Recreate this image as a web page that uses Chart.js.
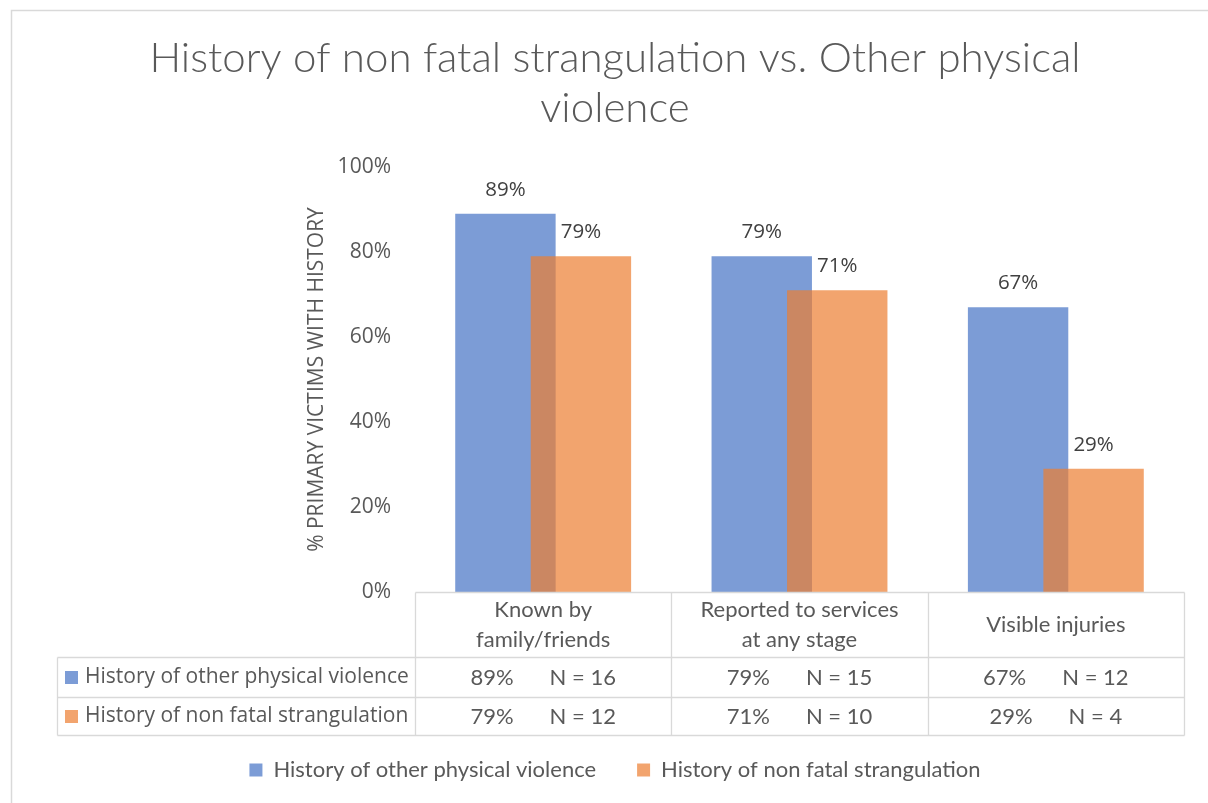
<!DOCTYPE html>
<html>
<head>
<meta charset="utf-8">
<script src="https://cdn.jsdelivr.net/npm/chart.js@4.4.1/dist/chart.umd.min.js"></script>
<style>
  html, body { margin: 0; padding: 0; background: #fff; }
  #wrap { width: 1208px; height: 803px; }
</style>
</head>
<body>
<div id="wrap"><canvas id="strangChart" width="1208" height="803"></canvas></div>
<script>
// chart data
const categories = [['Known by', 'family/friends'], ['Reported to services', 'at any stage'], ['Visible injuries']];
const seriesNames = ['History of other physical violence', 'History of non fatal strangulation'];
const otherViolencePct = [89, 79, 67];
const strangulationPct = [79, 71, 29];
const otherViolenceN = [16, 15, 12];
const strangulationN = [12, 10, 4];
const yTicks = [0, 20, 40, 60, 80, 100];

const BLUE = 'rgba(68, 114, 196, 0.7)';
const ORANGE = 'rgba(237, 125, 49, 0.7)';
const TEXT = '#595959';
const LINE = '#d9d9d9';
const NARROW = 'Lato, "Open Sans", sans-serif';   // stands in for Calibri
const WIDE = '"Open Sans", Lato, sans-serif';     // stands in for Segoe UI

// Excel draws the second series over the first one
const orangeOnTop = {
    id: 'orangeOnTop',
    beforeDatasetDraw(chart, args) {
        if (args.index === 1) return false;
    },
    afterDatasetsDraw(chart) {
        chart.getDatasetMeta(1).controller.draw();
    }
};

const valueLabels = {
    id: 'valueLabels',
    afterDatasetsDraw(chart) {
        const ctx = chart.ctx;
        ctx.save();
        ctx.font = '20.5px ' + WIDE;
        ctx.fillStyle = '#404040';
        ctx.textAlign = 'center';
        ctx.textBaseline = 'middle';
        chart.data.datasets.forEach((ds, i) => {
            chart.getDatasetMeta(i).data.forEach((bar, j) => {
                ctx.fillText(ds.data[j] + '%', bar.x, bar.y - 24);
            });
        });
        ctx.restore();
    }
};

// frame + data table under the plot
const dataTable = {
    id: 'dataTable',
    beforeDraw(chart) {
        const ctx = chart.ctx;
        ctx.save();
        ctx.strokeStyle = LINE;
        ctx.lineWidth = 1.5;
        ctx.beginPath();
        ctx.moveTo(11.5, 803);
        ctx.lineTo(11.5, 10.5);
        ctx.lineTo(1208, 10.5);
        ctx.stroke();
        ctx.restore();
    },
    afterDraw(chart) {
        const ctx = chart.ctx;
        const xs = chart.scales.x;
        const area = chart.chartArea;
        const top = Math.round(area.bottom) + 0.5;
        const rowA = top + 65, rowB = rowA + 40, rowC = rowB + 38;
        const keyLeft = 57.5;
        const half = (xs.getPixelForValue(1) - xs.getPixelForValue(0)) / 2;
        const bounds = [];
        for (let i = 0; i < categories.length; i++) bounds.push(Math.round(xs.getPixelForValue(i) - half) + 0.5);
        bounds.push(Math.round(xs.getPixelForValue(categories.length - 1) + half) + 0.5);
        const right = bounds[bounds.length - 1];

        ctx.save();
        ctx.strokeStyle = LINE;
        ctx.lineWidth = 1.3;
        ctx.beginPath();
        ctx.moveTo(bounds[0], top); ctx.lineTo(right, top);
        [rowA, rowB, rowC].forEach(y => { ctx.moveTo(keyLeft, y); ctx.lineTo(right, y); });
        bounds.forEach(x => { ctx.moveTo(x, top); ctx.lineTo(x, rowC); });
        ctx.moveTo(keyLeft, rowA); ctx.lineTo(keyLeft, rowC);
        ctx.stroke();

        ctx.fillStyle = TEXT;
        ctx.font = '22px ' + NARROW;
        ctx.textBaseline = 'middle';
        ctx.textAlign = 'center';
        categories.forEach((lines, i) => {
            const cx = xs.getPixelForValue(i);
            const cy = (top + rowA) / 2;
            lines.forEach((ln, k) => {
                ctx.fillText(ln, cx, cy + (k - (lines.length - 1) / 2) * 30);
            });
        });

        const rows = [
            { y: (rowA + rowB) / 2, pct: otherViolencePct, n: otherViolenceN, color: BLUE, name: seriesNames[0] },
            { y: (rowB + rowC) / 2, pct: strangulationPct, n: strangulationN, color: ORANGE, name: seriesNames[1] }
        ];
        rows.forEach(r => {
            ctx.textAlign = 'left';
            ctx.fillStyle = r.color;
            ctx.fillRect(65, Math.round(r.y - 6.5), 13, 13);
            ctx.fillStyle = TEXT;
            ctx.font = '21px ' + WIDE;
            ctx.fillText(r.name, 85, r.y);
            ctx.font = '22px ' + NARROW;
            r.pct.forEach((p, i) => {
                const a = p + '%', b = 'N = ' + r.n[i];
                const wa = ctx.measureText(a).width, wb = ctx.measureText(b).width;
                const gap = 36;
                const x0 = xs.getPixelForValue(i) - (wa + gap + wb) / 2;
                ctx.fillText(a, x0, r.y);
                ctx.fillText(b, x0 + wa + gap, r.y);
            });
        });
        ctx.restore();
    }
};

new Chart(document.getElementById('strangChart'), {
    type: 'bar',
    data: {
        labels: categories,
        datasets: [
            { label: seriesNames[0], data: otherViolencePct, backgroundColor: BLUE, borderWidth: 0 },
            { label: seriesNames[1], data: strangulationPct, backgroundColor: ORANGE, borderWidth: 0 }
        ]
    },
    options: {
        responsive: false,
        devicePixelRatio: 1,
        animation: false,
        categoryPercentage: 0.589,
        barPercentage: 1.33,
        layout: { padding: { left: 46, right: 24, top: 0, bottom: 12 } },
        plugins: {
            title: {
                display: true,
                text: ['History of non fatal strangulation vs. Other physical', 'violence'],
                color: TEXT,
                font: { family: NARROW, size: 42, weight: '300', lineHeight: 50 / 42 },
                padding: { top: 33, bottom: 34 }
            },
            legend: {
                position: 'bottom',
                labels: {
                    color: TEXT,
                    boxWidth: 13,
                    boxHeight: 13,
                    padding: 41,
                    font: { family: NARROW, size: 22 }
                }
            },
            tooltip: { enabled: false }
        },
        scales: {
            x: {
                grid: { display: false, drawTicks: false },
                border: { display: false },
                ticks: { display: false },
                afterFit(scale) { scale.height = 126; }
            },
            y: {
                min: yTicks[0],
                max: yTicks[yTicks.length - 1],
                afterBuildTicks(scale) { scale.ticks = yTicks.map(v => ({ value: v })); },
                ticks: {
                    callback: v => v + '%',
                    color: TEXT,
                    padding: 24,
                    font: { family: WIDE, size: 21 }
                },
                grid: { display: false, drawTicks: false },
                border: { display: false },
                title: {
                    display: true,
                    text: '% PRIMARY VICTIMS WITH HISTORY',
                    color: TEXT,
                    font: { family: WIDE, size: 21 },
                    padding: { top: 258, bottom: 0 }
                },
                afterFit(scale) { scale.width = 369; }
            }
        }
    },
    plugins: [orangeOnTop, valueLabels, dataTable]
});
</script>
</body>
</html>
